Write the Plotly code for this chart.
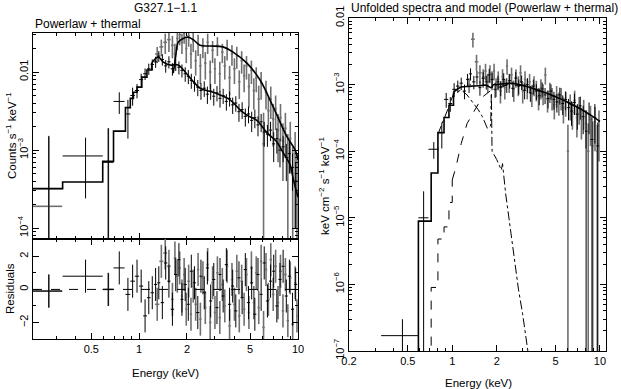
import plotly.graph_objects as go

# ---- data ----
# dataset 1 (black): energy centres, half widths, counts, count errors
e_blk = [0.27, 0.46, 0.64, 0.75, 0.85, 0.91, 0.97, 1.03, 1.09, 1.15, 1.21, 1.27, 1.33, 1.40,
         1.47, 1.54, 1.62, 1.70, 1.78, 1.86, 1.95, 2.04, 2.13, 2.23, 2.34, 2.45, 2.57, 2.69,
         2.82, 2.95, 3.09, 3.23, 3.38, 3.54, 3.71, 3.88, 4.06, 4.25, 4.45, 4.66, 4.88, 5.11,
         5.35, 5.60, 5.86, 6.13, 6.42, 6.72, 7.03, 7.36, 7.70, 8.06, 8.44, 8.83, 9.24, 9.67]
de_blk = [0.058, 0.13, 0.05, 0.06, 0.03, 0.03, 0.03, 0.03, 0.03, 0.03, 0.03, 0.03, 0.03, 0.035,
          0.035, 0.035, 0.04, 0.04, 0.04, 0.04, 0.045, 0.045, 0.045, 0.05, 0.055, 0.055, 0.06, 0.06,
          0.065, 0.065, 0.07, 0.07, 0.075, 0.08, 0.085, 0.085, 0.09, 0.095, 0.1, 0.105, 0.11, 0.115,
          0.12, 0.125, 0.13, 0.14, 0.145, 0.15, 0.155, 0.165, 0.17, 0.18, 0.19, 0.2, 0.205, 0.215]
cnt_blk = [3.2e-4, 8.4e-4, 7.0e-4, 4.2e-3, 2.9e-3, 5.0e-3, 5.8e-3, 8.0e-3, 9.5e-3, 0.011, 0.0125,
           0.0135, 0.016, 0.0145, 0.012, 0.0135, 0.011, 0.0125, 0.0115, 0.0105, 0.0095, 0.0088,
           0.0078, 0.0072, 0.0064, 0.0058, 0.0062, 0.0052, 0.0057, 0.0049, 0.0054, 0.0046, 0.0050,
           0.0042, 0.0046, 0.0038, 0.0040, 0.0031, 0.0033, 0.0027, 0.0029, 0.0024, 0.0026, 0.0021,
           0.0023, 0.0017, 0.0016, 0.0018, 0.0012, 0.0014, 0.0010, 0.0011, 0.0008, 0.0009, 0.0006,
           0.0004]
cerr_blk = [1.2e-3, 6e-4, 1.2e-3, 1.3e-3, 1.5e-3, 1.3e-3, 1.2e-3, 1.5e-3, 1.6e-3, 1.8e-3, 2e-3,
            2.2e-3, 2.5e-3, 2.4e-3, 2.2e-3, 2.4e-3, 2e-3, 2.2e-3, 2.2e-3, 2e-3, 2e-3, 1.8e-3,
            1.7e-3, 1.6e-3, 1.5e-3, 1.4e-3, 1.4e-3, 1.3e-3, 1.3e-3, 1.2e-3, 1.2e-3, 1.1e-3, 1.1e-3,
            1.0e-3, 1.0e-3, 9e-4, 9e-4, 8e-4, 8e-4, 7e-4, 7e-4, 7e-4, 7e-4, 6e-4, 6e-4, 6e-4, 5e-4,
            5e-4, 5e-4, 5e-4, 4e-4, 4e-4, 4e-4, 4e-4, 3e-4, 3e-4]
res_blk = [-0.1, 0.8, 0.0, 1.3, -0.3, 0.5, 0.8, 0.2, -1.6, -0.5, -0.2, 0.3, 0.4, -0.8, 1.6, 0.5,
           -1.2, 0.9, 1.8, -0.6, 0.3, -0.9, 1.1, 0.4, -1.4, 0.8, -0.2, 1.3, -0.7, 0.6, -1.1, 0.9,
           -0.4, 1.5, -0.9, 0.2, -1.3, 0.7, -0.5, 1.2, -0.8, 0.4, -1.5, 0.9, -0.3, 1.6, -0.7, 0.5,
           1.1, -1.0, 0.6, 1.4, -0.4, 0.8, -1.2, 0.3]
unf_blk = [None, 1.7e-7, 1.0e-5, 1.07e-4, 1.9e-4, 6.0e-4, 5.2e-4, 8.5e-4, 9.5e-4, 1.05e-3, 8.0e-4,
           1.2e-3, 1.45e-3, 1.1e-3, 1.3e-3, 9.0e-4, 1.25e-3, 1.1e-3, 1.4e-3, 1.2e-3, 8.5e-4,
           1.1e-3, 9.0e-4, 1.2e-3, 1.0e-3, 1.15e-3, 8.8e-4, 1.25e-3, 9.5e-4, 1.1e-3, 8.2e-4,
           1.0e-3, 7.5e-4, 9.5e-4, 8.0e-4, 6.8e-4, 8.6e-4, 7.0e-4, 6.2e-4, 8.0e-4, 6.0e-4, 5.5e-4,
           7.0e-4, 5.2e-4, 6.0e-4, 4.5e-4, 4.0e-4, 5.4e-4, 3.6e-4, 4.8e-4, 3.3e-4, 2.0e-4, 3.6e-4,
           1.5e-4, 3.2e-4, 1.2e-4]
uerr_blk = [None, 1.3e-7, 1.5e-5, 3e-5, 8e-5, 1.5e-4, 1.3e-4, 2e-4, 2e-4, 2.2e-4, 2e-4, 2.5e-4,
            3e-4, 2.5e-4, 3e-4, 2.2e-4, 3e-4, 2.6e-4, 3.2e-4, 3e-4, 2.2e-4, 2.6e-4, 2.3e-4, 2.8e-4,
            2.5e-4, 2.8e-4, 2.3e-4, 3e-4, 2.4e-4, 2.7e-4, 2.2e-4, 2.5e-4, 2e-4, 2.4e-4, 2.1e-4,
            1.9e-4, 2.2e-4, 1.9e-4, 1.8e-4, 2.1e-4, 1.8e-4, 1.7e-4, 2e-4, 1.7e-4, 1.9e-4, 1.6e-4,
            1.6e-4, 1.9e-4, 1.5e-4, 1.8e-4, 1.5e-4, 2.1e-4, 1.8e-4, 1.8e-4, 1.9e-4, 1.5e-4]

# dataset 2 (grey)
e_gry = [0.27, 0.64, 1.30, 1.38, 1.46, 1.54, 1.62, 1.68, 1.74, 1.80, 1.86, 1.92, 1.98, 2.05,
         2.12, 2.19, 2.27, 2.35, 2.43, 2.52, 2.61, 2.70, 2.80, 2.90, 3.00, 3.11, 3.22, 3.34,
         3.46, 3.58, 3.71, 3.84, 3.98, 4.12, 4.27, 4.42, 4.58, 4.74, 4.91, 5.09, 5.27, 5.46,
         5.66, 5.86, 6.07, 6.29, 6.51, 6.74, 6.98, 7.23, 7.49, 7.76, 8.04, 8.33, 8.63, 8.94,
         9.26, 9.59, 9.85]
de_gry = [0.058, 0.05, 0.04, 0.04, 0.04, 0.04, 0.03, 0.03, 0.03, 0.03, 0.03, 0.03, 0.03, 0.035,
          0.035, 0.035, 0.04, 0.04, 0.04, 0.045, 0.045, 0.045, 0.05, 0.05, 0.05, 0.055, 0.055,
          0.06, 0.06, 0.06, 0.065, 0.065, 0.07, 0.07, 0.075, 0.075, 0.08, 0.08, 0.085, 0.09, 0.09,
          0.095, 0.1, 0.1, 0.11, 0.11, 0.115, 0.12, 0.125, 0.13, 0.13, 0.14, 0.145, 0.15, 0.155,
          0.16, 0.16, 0.165, 0.1]
cnt_gry = [1.9e-4, 7.0e-4, 0.017, 0.021, 0.024, 0.026, 0.022, 0.017, 0.027, 0.030, 0.024, 0.031,
           0.020, 0.029, 0.017, 0.025, 0.014, 0.023, 0.012, 0.021, 0.013, 0.024, 0.010, 0.019,
           0.011, 0.022, 0.0095, 0.018, 0.012, 0.020, 0.0085, 0.017, 0.011, 0.016, 0.0075, 0.014,
           0.009, 0.012, 0.0065, 0.0105, 0.0058, 0.0085, 0.0045, 0.0072, 0.0012, 0.0055, 0.0032,
           0.0045, 0.0025, 0.0034, 0.0018, 0.0026, 0.0013, 0.0019, 0.0008, 0.0014, 0.0005, 0.0009,
           0.0004]
cerr_gry = [1.3e-3, 1.2e-3, 4e-3, 5e-3, 7e-3, 8e-3, 7e-3, 6e-3, 8e-3, 8e-3, 7e-3, 8e-3, 7e-3,
            8e-3, 6e-3, 7e-3, 5e-3, 7e-3, 5e-3, 6e-3, 5e-3, 7e-3, 4e-3, 6e-3, 4e-3, 6e-3, 4e-3,
            5e-3, 4e-3, 6e-3, 3.5e-3, 5e-3, 4e-3, 5e-3, 3e-3, 4.5e-3, 3.5e-3, 4e-3, 3e-3, 3.5e-3,
            2.5e-3, 3e-3, 2.2e-3, 2.8e-3, 1.8e-3, 2.2e-3, 1.6e-3, 2e-3, 1.4e-3, 1.6e-3, 1.1e-3,
            1.3e-3, 9e-4, 1.1e-3, 8e-4, 9e-4, 6e-4, 8e-4, 5e-4]
res_gry = [-0.1, 0.0, -0.9, 1.7, 2.2, 1.4, -0.6, 1.9, 0.8, 1.3, -0.4, 0.9, -1.2, 0.5, -1.5, 0.2,
           -0.9, 1.2, -1.8, 0.7, -1.1, 1.5, -2.0, 0.4, -1.4, 1.0, -1.7, 0.3, -1.0, 1.4, -2.2, 0.6,
           -0.9, 1.1, -1.6, 0.5, -1.2, 0.9, -1.4, 1.3, -0.8, 1.0, -1.1, 1.7, -2.3, 1.2, -0.6, 1.8,
           -0.3, 1.4, -0.8, 1.1, -1.3, 0.9, -1.9, 0.7, -2.1, 0.4, -1.6]
unf_gry = [None, None, 1.0e-3, 4.8e-3, 2.2e-3, 1.5e-3, 1.3e-3, 1.6e-3, 1.1e-3, 1.5e-3, 1.2e-3,
           1.6e-3, 9.5e-4, 1.2e-3, 8.0e-4, 1.3e-3, 9.0e-4, 1.9e-3, 1.1e-3, 1.4e-3, 8.5e-4, 1.3e-3,
           1.0e-3, 1.5e-3, 8.0e-4, 1.2e-3, 9.0e-4, 1.1e-3, 7.2e-4, 1.0e-3, 8.5e-4, 6.5e-4, 9.0e-4,
           7.5e-4, 1.4e-3, 6.0e-4, 8.0e-4, 6.5e-4, 5.0e-4, 7.0e-4, 5.5e-4, 6.5e-4, 4.5e-4, 5.5e-4,
           1.0e-4, 5.0e-4, 3.8e-4, 5.8e-4, 3.2e-4, 4.5e-4, 3.0e-4, 4.0e-4, 2.6e-4, 1.0e-4, 3.0e-4,
           1.2e-4, 2.8e-4, 1.0e-4, 2.4e-4]
uerr_gry = [None, None, 2.5e-4, 1.2e-3, 6e-4, 4.5e-4, 4e-4, 4.5e-4, 3.5e-4, 4.5e-4, 3.8e-4,
            4.5e-4, 3e-4, 3.8e-4, 2.8e-4, 4e-4, 3e-4, 5e-4, 3.5e-4, 4e-4, 3e-4, 4e-4, 3.3e-4,
            4.5e-4, 2.8e-4, 3.8e-4, 3e-4, 3.5e-4, 2.6e-4, 3.3e-4, 2.9e-4, 2.4e-4, 3e-4, 2.6e-4,
            4e-4, 2.2e-4, 2.7e-4, 2.4e-4, 2e-4, 2.5e-4, 2.1e-4, 2.4e-4, 1.9e-4, 2.2e-4, 1.5e-4,
            2.1e-4, 1.7e-4, 2.3e-4, 1.6e-4, 2e-4, 1.5e-4, 1.9e-4, 1.5e-4, 1.6e-4, 1.8e-4, 1.6e-4,
            1.8e-4, 1.5e-4, 1.7e-4]

# folded models (counts s^-1 keV^-1)
mod_blk_step_e = [0.215, 0.33, 0.59, 0.69, 0.82, 0.88, 0.92, 0.97, 1.04, 1.12, 1.20]
mod_blk_step = [3.2e-4, 3.9e-4, 7.2e-4, 1.75e-3, 3.5e-3, 4.6e-3, 5.5e-3, 6.4e-3, 8.6e-3, 0.0106, 0.013]
mod_blk_e = [1.20, 1.32, 1.42, 1.57, 1.76, 1.95, 2.15, 2.42, 2.92, 3.73, 4.3, 4.77, 5.5, 6.4, 7.3,
             8.0, 8.9, 9.4, 10.0]
mod_blk = [0.013, 0.0156, 0.0134, 0.0123, 0.0123, 0.010, 7.9e-3, 6.2e-3, 5.5e-3, 4.4e-3, 3.3e-3,
           2.8e-3, 2.4e-3, 1.65e-3, 1.3e-3, 9.5e-4, 6.5e-4, 4.0e-4, 2.5e-4]
mod_gry_e = [1.64, 1.70, 1.76, 1.9, 2.03, 2.19, 2.42, 2.8, 3.37, 3.9, 4.77, 5.77, 6.97, 8.5, 9.6, 10.0]
mod_gry = [0.0097, 0.016, 0.024, 0.027, 0.028, 0.026, 0.022, 0.0215, 0.021, 0.018, 0.013, 0.0079,
           0.0036, 0.0015, 0.001, 7.5e-4]

# unfolded model and components (keV cm^-2 s^-1 keV^-1)
tot_step_e = [0.59, 0.59, 0.72, 0.80, 0.88, 0.95, 1.02]
tot_step = [1e-8, 8.9e-6, 4.7e-5, 1.9e-4, 3.2e-4, 4.9e-4, 7.7e-4]
tot_e = [1.02, 1.15, 1.3, 1.5, 1.7, 1.84, 1.9, 2.0, 2.44, 3.0, 4.1, 5.0, 6.2, 8.0, 10.0]
tot = [7.7e-4, 9.2e-4, 9.4e-4, 9.6e-4, 9.8e-4, 9.0e-4, 1.0e-3, 1.0e-3, 1.05e-3, 9.8e-4, 7.8e-4,
       6.6e-4, 5.3e-4, 3.9e-4, 2.8e-4]
pl_step_e = [0.72, 0.72, 0.80, 0.88, 0.95, 1.0]
pl_step = [1e-8, 9e-7, 4.8e-6, 7.3e-6, 1.7e-5, 3.7e-5]
pl_e = [1.0, 1.06, 1.15, 1.26, 1.46, 1.6, 1.84, 2.09, 2.44, 3.0, 4.1, 5.0, 6.2, 8.0, 10.0]
pl = [3.7e-5, 5.8e-5, 1.3e-4, 2.6e-4, 4.6e-4, 6.5e-4, 8.3e-4, 9.3e-4, 1.0e-3, 9.6e-4, 7.7e-4,
      6.5e-4, 5.2e-4, 3.85e-4, 2.75e-4]
th_e = [0.80, 0.88, 0.95, 1.02, 1.15, 1.26, 1.37, 1.5, 1.6, 1.73, 1.82, 1.84, 1.86, 2.0, 2.15,
        2.19, 2.3, 2.56, 2.81, 2.99, 3.24, 3.4]
th = [1.8e-4, 3.0e-4, 4.7e-4, 7.3e-4, 8.3e-4, 7.0e-4, 5.5e-4, 4.2e-4, 3.3e-4, 2.2e-4, 2.4e-4,
      7.5e-4, 1.0e-4, 7.5e-5, 5.2e-5, 6.5e-5, 2.3e-5, 3.6e-6, 8.3e-7, 3.7e-7, 1.0e-7, 5e-8]

# tick labels
x_ticks = [0.5, 1, 2, 5, 10]
x_ticks_r = [0.2, 0.5, 1, 2, 5, 10]
y_ticks_l = [1e-4, 1e-3, 1e-2]
y_text_l = ["10<sup>\u22124</sup>", "10<sup>\u22123</sup>", "0.01"]
y_ticks_r = [1e-7, 1e-6, 1e-5, 1e-4, 1e-3, 1e-2]
y_text_r = ["10<sup>\u22127</sup>", "10<sup>\u22126</sup>", "10<sup>\u22125</sup>",
            "10<sup>\u22124</sup>", "10<sup>\u22123</sup>", "0.01"]

GREY = "#707070"
FONT = "Liberation Sans"
SP = "\u00a0"


def minor_log(lo, hi):
    out = []
    d = lo
    while d < hi:
        out += [d * k for k in range(2, 10)]
        d *= 10
    return out


def minor(vals):
    return dict(tickmode="array", tickvals=vals, ticks="inside", ticklen=3, tickcolor="black")


def data_trace(x, dx, y, dy, color, width, xa, ya):
    return go.Scatter(
        x=x, y=y, mode="markers", marker=dict(size=1, color=color, opacity=0),
        error_x=dict(type="data", array=dx, color=color, thickness=width, width=0),
        error_y=dict(type="data", array=dy, color=color, thickness=width, width=0),
        xaxis=xa, yaxis=ya, hoverinfo="skip", showlegend=False,
    )


def line_trace(x, y, xa, ya, shape="linear", dash="solid", width=1.6):
    return go.Scatter(
        x=x, y=y, mode="lines", line=dict(color="black", width=width, shape=shape, dash=dash),
        xaxis=xa, yaxis=ya, hoverinfo="skip", showlegend=False,
    )


fig = go.Figure()

# left: folded spectra
fig.add_trace(data_trace(e_gry, de_gry, cnt_gry, cerr_gry, GREY, 1.6, "x", "y"))
fig.add_trace(data_trace(e_blk, de_blk, cnt_blk, cerr_blk, "black", 1, "x", "y"))
fig.add_trace(line_trace(mod_blk_step_e, mod_blk_step, "x", "y", shape="hv"))
fig.add_trace(line_trace(mod_blk_e, mod_blk, "x", "y", shape="spline"))
fig.add_trace(line_trace(mod_gry_e, mod_gry, "x", "y", shape="spline"))

# left: residuals
fig.add_trace(data_trace(e_gry, de_gry, res_gry, [1] * len(res_gry), GREY, 1.6, "x2", "y2"))
fig.add_trace(data_trace(e_blk, de_blk, res_blk, [1] * len(res_blk), "black", 1, "x2", "y2"))

# right: unfolded
fig.add_trace(data_trace(e_gry, de_gry, unf_gry, uerr_gry, GREY, 1.6, "x3", "y3"))
fig.add_trace(data_trace(e_blk, de_blk, unf_blk, uerr_blk, "black", 1, "x3", "y3"))
fig.add_trace(line_trace(pl_step_e, pl_step, "x3", "y3", shape="hv", dash="dash", width=1))
fig.add_trace(line_trace(pl_e, pl, "x3", "y3", dash="dash", width=1))
fig.add_trace(line_trace(th_e, th, "x3", "y3", dash="dashdot", width=1))
fig.add_trace(line_trace(tot_step_e, tot_step, "x3", "y3", shape="hv"))
fig.add_trace(line_trace(tot_e, tot, "x3", "y3", shape="spline"))

W, H = 621, 389
L = [33 / W, 298 / W]
R = [349 / W, 606 / W]

axis_common = dict(showline=True, linecolor="black", linewidth=1, mirror="allticks",
                   ticks="inside", tickcolor="black", ticklen=6, showgrid=False, zeroline=False,
                   automargin=False, tickfont=dict(family=FONT, size=11, color="black"))

fig.update_layout(
    width=W, height=H, margin=dict(l=0, r=0, t=0, b=0, autoexpand=False),
    paper_bgcolor="white", plot_bgcolor="white",
    font=dict(family=FONT, size=11, color="black"),
    xaxis=dict(axis_common, domain=L, anchor="y", type="log", range=[-0.668, 1.0],
               tickvals=[1, 10], showticklabels=False, matches="x2",
               minor=minor(minor_log(0.1, 10))),
    yaxis=dict(axis_common, domain=[1 - 239 / H, 1 - 33 / H], anchor="x", type="log",
               range=[-4.14, -1.5], tickvals=y_ticks_l, ticktext=y_text_l, tickangle=-90,
               minor=minor(minor_log(1e-5, 0.1))),
    xaxis2=dict(axis_common, domain=L, anchor="y2", type="log", range=[-0.668, 1.0],
                tickvals=x_ticks, ticktext=[str(v) for v in x_ticks],
                minor=minor(minor_log(0.1, 10))),
    yaxis2=dict(axis_common, domain=[1 - 339 / H, 1 - 239 / H], anchor="x2", range=[-3, 3.05],
                tickvals=[-2, 0, 2], ticktext=["\u22122", "0", "2"], tickangle=-90,
                minor=minor([-1, 1])),
    xaxis3=dict(axis_common, domain=R, anchor="y3", type="log", range=[-0.699, 1.041],
                tickvals=x_ticks_r, ticktext=[str(v) for v in x_ticks_r],
                minor=minor(minor_log(0.1, 10))),
    yaxis3=dict(axis_common, domain=[1 - 351 / H, 1 - 18 / H], anchor="x3", type="log",
                range=[-7, -2], tickvals=y_ticks_r, ticktext=y_text_r, tickangle=-90,
                minor=minor(minor_log(1e-7, 0.01))),
    shapes=[dict(type="line", xref="x2 domain", yref="y2", x0=0, x1=1, y0=0, y1=0,
                 line=dict(color="black", width=1, dash="dash"))],
)

plus = SP + "+" + SP
ann = [
    ("G327.1\u22121.1", 165, 8, 0, "center", 12),
    ("Powerlaw" + plus + "thermal", 33, 24, 0, "left", 12),
    ("Unfolded spectra and model (Powerlaw" + plus + "thermal)", 349, 8, 0, "left", 12),
    ("Counts s<sup>\u22121</sup> keV<sup>\u22121</sup>", 11, 136, -90, "center", 11.5),
    ("Residuals", 10, 289, -90, "center", 11.5),
    ("Energy (keV)", 165, 373, 0, "center", 11.5),
    ("Energy (keV)", 478, 383, 0, "center", 11.5),
    ("keV cm<sup>\u22122</sup> s<sup>\u22121</sup> keV<sup>\u22121</sup>", 324, 186, -90, "center", 11.5),
]
for text, px, py, ang, xa, fs in ann:
    fig.add_annotation(text=text, xref="paper", yref="paper", x=px / W, y=1 - py / H,
                       xanchor=xa, yanchor="middle", textangle=ang, showarrow=False,
                       font=dict(family=FONT, size=fs, color="black"))

# the page body has a default 8px margin; drop it so the figure sits at the window corner
fig.write_html("out.html", config={"displayModeBar": False, "staticPlot": True},
               post_script="document.body.style.margin='0';")
